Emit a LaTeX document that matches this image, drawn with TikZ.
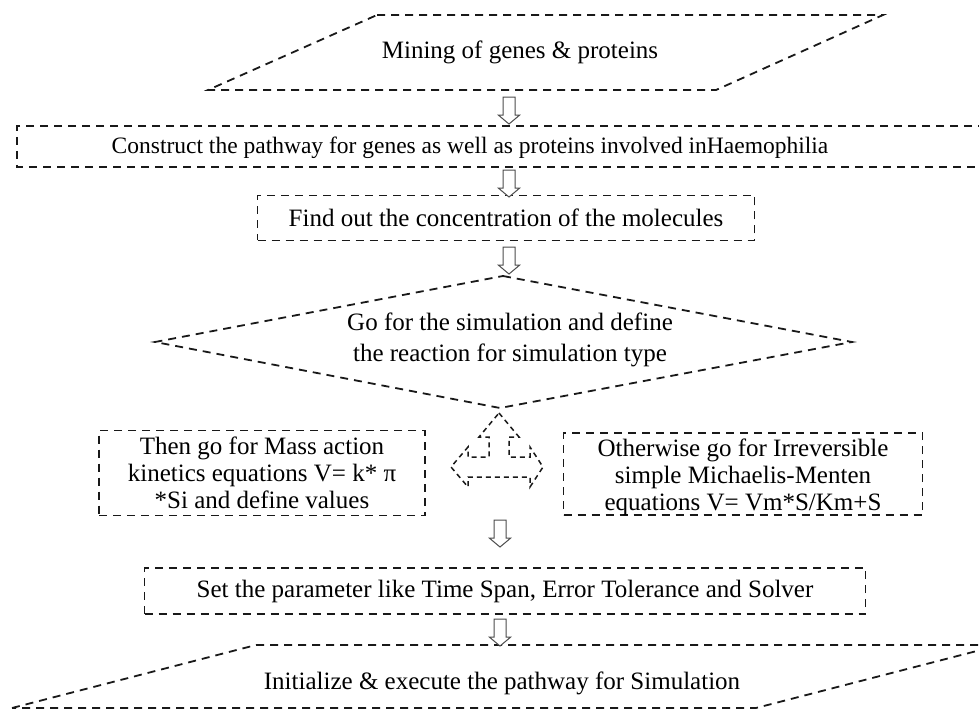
\documentclass[tikz,border=0pt]{standalone}
\usepackage{fontspec}
\setmainfont{Liberation Serif}
\usetikzlibrary{shapes.arrows}

\begin{document}
\begin{tikzpicture}[x=1pt,y=-1pt,
  dashline/.style={draw=black!90,line width=1.8pt,dash pattern=on 8pt off 6pt},
  dashbox/.style={dashline,rectangle,inner sep=0pt},
  txt/.style={font=\fontsize{25}{27}\selectfont,align=center,inner sep=0pt},
  downarrow/.style={single arrow,draw=black!70,fill=white,line width=1pt,
    shape border rotate=270,inner sep=5.5pt,minimum height=27pt,
    single arrow head extend=4.5pt,single arrow tip angle=100}]
\clip (0,0) rectangle (979,711);
% input
\draw [dashline] (377,15) -- (883,15) -- (716,90) -- (208,90) -- cycle;
\node (mining) at (520,52) [txt] {Mining of genes \& proteins};
% pathway
\draw [dashline] (1000,126) -- (17,126) -- (17,167) -- (1000,167);
\node (construct) at (470,148) [txt,font=\fontsize{23.5}{27}\selectfont] {Construct the pathway for genes as well as proteins involved inHaemophilia};
\node (find) at (506,218) [txt,dashbox,minimum width=497pt,minimum height=45pt] {Find out the concentration of the molecules};
% decision
\draw [dashline] (503,276) -- (852,342) -- (500,408) -- (155,342) -- cycle;
\node (simtype) at (510,340) [txt,font=\fontsize{25}{31}\selectfont] {Go for the simulation and define\\the reaction for simulation type};
\node (massaction) at (262,473) [txt,dashbox,minimum width=326pt,minimum height=85pt] {Then go for Mass action\\kinetics equations V= k* π\\*Si and define values};
\node (michaelisbox) at (743,474) [dashbox,minimum width=359pt,minimum height=82pt] {};
\node (michaelis) at (743,477) [txt] {Otherwise go for Irreversible\\simple Michaelis-Menten\\equations V= Vm*S/Km+S};
\draw [draw=black!90,line width=1.5pt,dash pattern=on 5pt off 4pt]
  (499,413) -- (519,437) -- (509,437) -- (509,457) -- (530,457) -- (530,447)
  -- (543,467) -- (530,487) -- (530,477) -- (468,477) -- (468,487) -- (451,467)
  -- (468,447) -- (468,457) -- (489,457) -- (489,437) -- (479,437) -- cycle;
% simulation
\node (params) at (505,591) [txt,dashbox,minimum width=721pt,minimum height=46pt] {Set the parameter like Time Span, Error Tolerance and Solver};
\draw [dashline] (12,708) -- (256,645) -- (1000,645) -- (756,708) -- cycle;
\node (execute) at (502,683) [txt] {Initialize \& execute the pathway for Simulation};
% arrows
\node (a1) at (509,108) [downarrow] {};
\node (a2) at (509,181) [downarrow] {};
\node (a3) at (509,258) [downarrow] {};
\node (a4) at (500,531) [downarrow] {};
\node (a5) at (500,630) [downarrow] {};
\end{tikzpicture}
\end{document}
